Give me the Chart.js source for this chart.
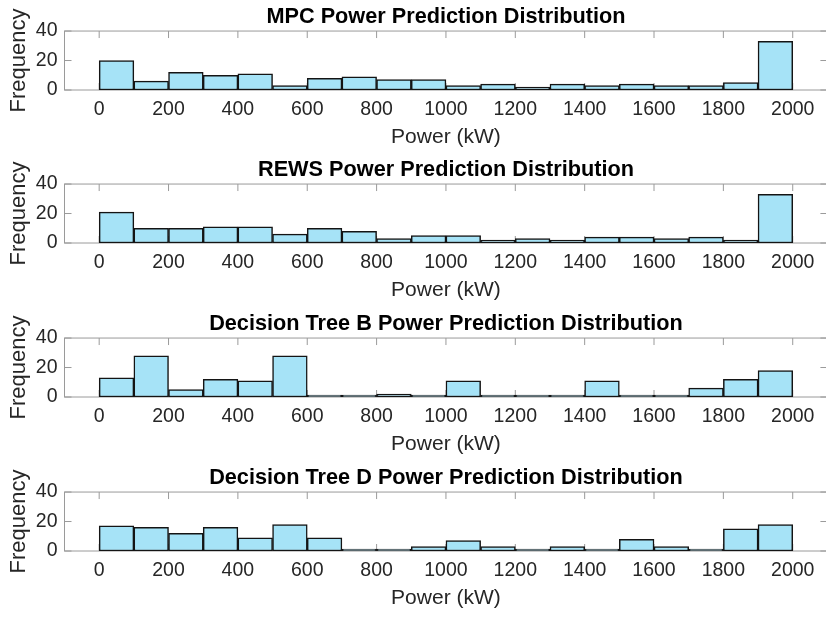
<!DOCTYPE html>
<html>
<head>
<meta charset="utf-8">
<title>Power Prediction Distribution</title>
<script src="https://cdn.jsdelivr.net/npm/chart.js@4.4.1/dist/chart.umd.min.js"></script>
<style>
    html, body { margin: 0; padding: 0; background: #fff; overflow: hidden; }
    #wrap { position: relative; width: 826px; height: 617px; overflow: hidden; }
    #wrap canvas { position: absolute; left: 0; }
</style>
</head>
<body>
<div id="wrap">
    <canvas id="c0" width="840" height="154" style="top:0px"></canvas>
    <canvas id="c1" width="840" height="154" style="top:153px"></canvas>
    <canvas id="c2" width="840" height="154" style="top:307px"></canvas>
    <canvas id="c3" width="840" height="154" style="top:461px"></canvas>
</div>
<script>
// histogram bins (kW), 100 wide
const binCenters = [50, 150, 250, 350, 450, 550, 650, 750, 850, 950,
                    1050, 1150, 1250, 1350, 1450, 1550, 1650, 1750, 1850, 1950];
const xTicks = [0, 200, 400, 600, 800, 1000, 1200, 1400, 1600, 1800, 2000];
const yTicks = [0, 20, 40];

const titles = [
    'MPC Power Prediction Distribution',
    'REWS Power Prediction Distribution',
    'Decision Tree B Power Prediction Distribution',
    'Decision Tree D Power Prediction Distribution'
];

const mpcCounts   = [20, 6, 12, 10, 11, 3, 8, 9, 7, 7, 3, 4, 2, 4, 3, 4, 3, 3, 5, 33];
const rewsCounts  = [21, 10, 10, 11, 11, 6, 10, 8, 3, 5, 5, 2, 3, 2, 4, 4, 3, 4, 2, 33];
const treeBCounts = [13, 28, 5, 12, 11, 28, 0, 0, 2, 0, 11, 0, 0, 0, 11, 0, 0, 6, 12, 18];
const treeDCounts = [17, 16, 12, 16, 9, 18, 9, 0, 0, 3, 7, 3, 0, 3, 0, 8, 3, 0, 15, 18];

const allCounts = [mpcCounts, rewsCounts, treeBCounts, treeDCounts];

const FONT = 'Liberation Sans, Arial, Helvetica, sans-serif';
const TEXT = '#262626';

// matlab style box with inward ticks
const boxPlugin = {
    id: 'matlabBox',
    beforeDatasetsDraw(chart) {
        const {ctx, chartArea: a, scales: {x, y}} = chart;
        ctx.save();
        ctx.strokeStyle = '#9a9a9a';
        ctx.lineWidth = 1;
        ctx.strokeRect(a.left, a.top, a.right - a.left, a.bottom - a.top);
        ctx.beginPath();
        xTicks.forEach(v => {
            const px = x.getPixelForValue(v);
            ctx.moveTo(px, a.bottom); ctx.lineTo(px, a.bottom - 7);
            ctx.moveTo(px, a.top); ctx.lineTo(px, a.top + 7);
        });
        yTicks.forEach(v => {
            const py = y.getPixelForValue(v);
            ctx.moveTo(a.left, py); ctx.lineTo(a.left + 7, py);
            ctx.moveTo(a.right, py); ctx.lineTo(a.right - 7, py);
        });
        ctx.stroke();
        ctx.restore();
    }
};

function makeChart(idx) {
    const ctx = document.getElementById('c' + idx).getContext('2d');
    const counts = allCounts[idx];
    return new Chart(ctx, {
        type: 'bar',
        data: {
            datasets: [{
                data: binCenters.map((c, i) => ({x: c, y: counts[i]})),
                backgroundColor: '#a6e3f7',
                borderColor: '#141414',
                borderWidth: 1.5,
                borderSkipped: false,
                minBarLength: 2,
                barPercentage: 1,
                categoryPercentage: 1
            }]
        },
        options: {
            responsive: false,
            animation: false,
            events: [],
            layout: { padding: { left: 0, right: 12.6, top: 0, bottom: 0 } },
            plugins: {
                legend: { display: false },
                tooltip: { enabled: false },
                title: {
                    display: true,
                    text: titles[idx],
                    fullSize: false,
                    color: '#000',
                    font: { family: FONT, size: 21.7, weight: 'bold', lineHeight: 1.2 },
                    padding: { top: 4, bottom: 1 }
                }
            },
            scales: {
                x: {
                    type: 'linear',
                    min: -100,
                    max: 2100,
                    offset: false,
                    grid: { display: false, drawTicks: false, offset: false },
                    border: { display: false },
                    afterBuildTicks: s => { s.ticks = xTicks.map(v => ({value: v})); },
                    afterFit: s => { s.height = 64; },
                    ticks: {
                        autoSkip: false,
                        maxRotation: 0,
                        padding: 8,
                        color: TEXT,
                        font: { family: FONT, size: 19.5 },
                        callback: v => String(v)
                    },
                    title: {
                        display: true,
                        text: 'Power (kW)',
                        color: TEXT,
                        font: { family: FONT, size: 21 },
                        padding: { top: 0, bottom: 4 }
                    }
                },
                y: {
                    min: 0,
                    max: 40,
                    grid: { display: false, drawTicks: false },
                    border: { display: false },
                    afterBuildTicks: s => { s.ticks = yTicks.map(v => ({value: v})); },
                    afterFit: s => { s.width = 64.5; },
                    ticks: {
                        padding: 7,
                        color: TEXT,
                        font: { family: FONT, size: 19.5 }
                    },
                    title: {
                        display: true,
                        text: 'Frequency',
                        color: TEXT,
                        font: { family: FONT, size: 22 },
                        padding: { top: 6, bottom: 0 }
                    }
                }
            }
        },
        plugins: [boxPlugin]
    });
}

[0, 1, 2, 3].forEach(makeChart);
</script>
</body>
</html>
